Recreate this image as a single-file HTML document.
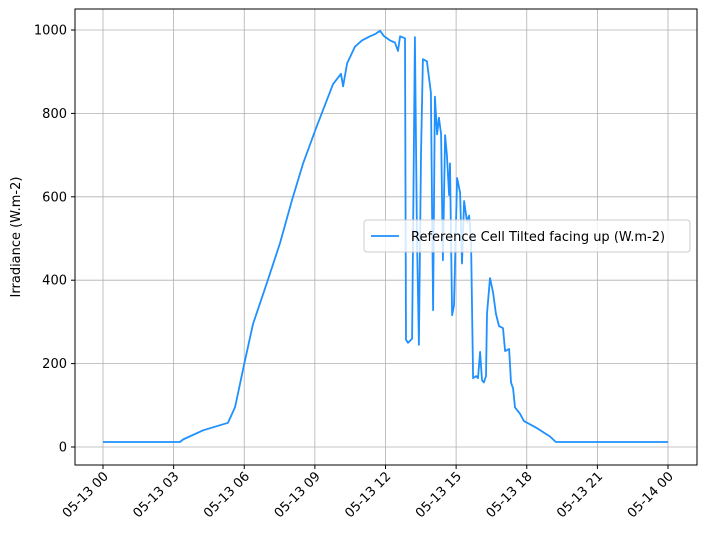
<!DOCTYPE html>
<html><head><meta charset="utf-8"><style>
body{margin:0;background:#fff;font-family:"Liberation Sans","DejaVu Sans",sans-serif}
svg text{font-family:"DejaVu Sans","Liberation Sans",sans-serif;font-size:13px;fill:#000}
</style></head><body>
<svg id="chart" width="704" height="536" xmlns="http://www.w3.org/2000/svg">
<g id="grid"></g>
<g id="xticks"></g>
<g id="yticks"></g>
<path id="line" fill="none" stroke="#1e90ff" stroke-width="1.8" stroke-linejoin="round"/>
<rect x="75" y="9" width="622" height="456" fill="none" stroke="#000" stroke-width="1"/>
<text transform="translate(20,237) rotate(-90)" text-anchor="middle">Irradiance (W.m-2)</text>
<g>
<rect x="364" y="220" width="326" height="32" rx="3" fill="#fff" fill-opacity="0.8" stroke="#ccc"/>
<line x1="371" y1="236" x2="399" y2="236" stroke="#1e90ff" stroke-width="1.8"/>
<text x="411" y="241">Reference Cell Tilted facing up (W.m-2)</text>
</g>
</svg>
<script>
const hours=[0,3.27,3.40,4.25,5.31,5.61,6.00,6.37,7.00,7.52,8.03,8.50,9.05,9.77,10.11,10.20,10.37,10.70,11.00,11.34,11.55,11.77,11.94,12.19,12.40,12.53,12.62,12.83,12.87,12.96,13.13,13.25,13.34,13.42,13.51,13.59,13.76,13.93,14.02,14.10,14.19,14.27,14.36,14.44,14.53,14.61,14.70,14.74,14.83,14.91,15.04,15.17,15.25,15.34,15.46,15.55,15.63,15.72,15.85,15.93,16.02,16.10,16.18,16.27,16.31,16.44,16.57,16.69,16.82,16.99,17.08,17.25,17.33,17.42,17.50,17.71,17.88,18.44,18.99,19.24,24];
const values=[12,12,18,40,58,96,200,295,400,489,592,680,765,870,895,865,920,960,975,985,990,998,985,975,970,950,985,980,257,250,260,983,500,245,700,930,925,850,328,840,750,790,750,448,748,700,604,680,316,340,645,610,440,590,540,555,500,165,170,165,228,160,155,170,320,405,370,320,290,285,230,235,155,140,95,80,62,45,25,12,12];
const xTickHours=[0,3,6,9,12,15,18,21,24];
const xTickLabels=["05-13 00","05-13 03","05-13 06","05-13 09","05-13 12","05-13 15","05-13 18","05-13 21","05-14 00"];
const yTicks=[0,200,400,600,800,1000];
const NS="http://www.w3.org/2000/svg";
const xs=h=>103+h*(668-103)/24;
const ys=v=>447-v*(447-30)/1000;
const grid=document.getElementById('grid'),xt=document.getElementById('xticks'),yt=document.getElementById('yticks');
function mk(tag,attrs,parent){const e=document.createElementNS(NS,tag);for(const k in attrs)e.setAttribute(k,attrs[k]);parent.appendChild(e);return e;}
xTickHours.forEach((h,i)=>{const x=xs(h);
 const g=mk('line',{x1:x,x2:x,y1:9,y2:465,stroke:'#b0b0b0','stroke-width':0.8},grid);
 
 
 const t=mk('line',{x1:x,x2:x,y1:465,y2:469,stroke:'#000'},xt);
 
 
 const l=mk('text',{'text-anchor':'end',transform:`translate(${x+6},${477}) rotate(-45)`},xt);
 l.textContent=xTickLabels[i];
 
 
});
yTicks.forEach(v=>{const y=ys(v);
 const g=mk('line',{x1:75,x2:697,y1:y,y2:y,stroke:'#b0b0b0','stroke-width':0.8},grid);
 
 
 const t=mk('line',{x1:71,x2:75,y1:y,y2:y,stroke:'#000'},yt);
 
 
 const l=mk('text',{x:67,y:y+4.5,'text-anchor':'end'},yt);
 l.textContent=v;
 
 
});
document.getElementById('line').setAttribute('d',hours.map((h,i)=>(i?'L':'M')+xs(h).toFixed(1)+','+ys(values[i]).toFixed(1)).join(''));
</script>
</body></html>
